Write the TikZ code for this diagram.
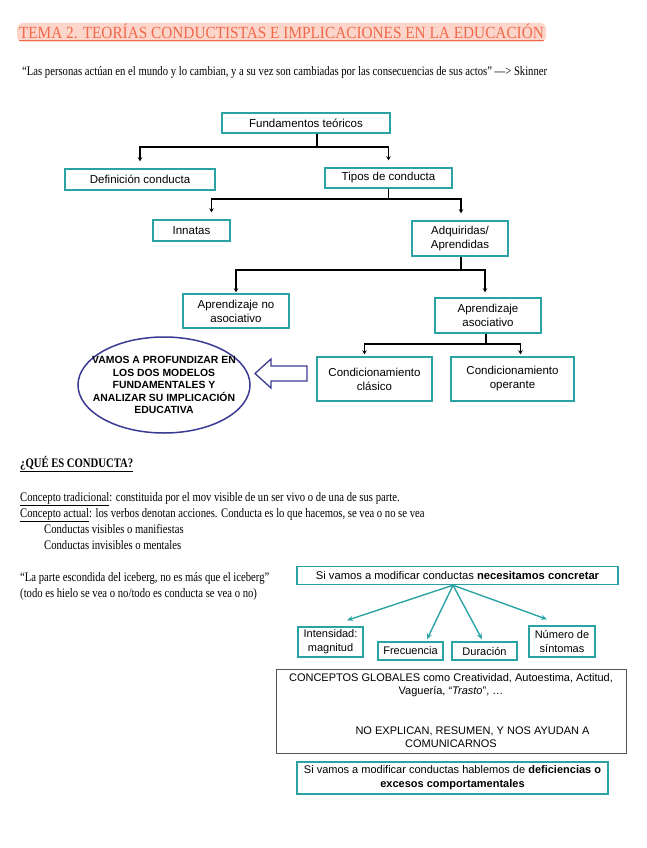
\documentclass[tikz,border=0pt]{standalone}
\usepackage{fontspec}
\setmainfont{Liberation Serif}
\newfontfamily\notefont[FakeStretch=0.82]{Liberation Serif}
\newfontfamily\headfont[FakeStretch=0.9]{Liberation Serif}
\newfontfamily\boxfont{Liberation Sans}
\usetikzlibrary{shapes.geometric,arrows.meta}

\definecolor{boxteal}{HTML}{2BA3A5}
\definecolor{titlered}{HTML}{F2684A}
\definecolor{titlepink}{HTML}{FCD6CB}
\definecolor{ovalblue}{HTML}{3B3A94}
\definecolor{framegray}{HTML}{555555}

\tikzset{
	tbox/.style={draw=boxteal, line width=1.4pt, align=center, inner sep=0pt,
		font=\boxfont\fontsize{11.5}{14}\selectfont},
	gbox/.style={draw=framegray, line width=0.9pt, align=center, inner sep=0pt,
		font=\boxfont\fontsize{11}{13}\selectfont},
	branch/.style={draw=black, line width=1.8pt, -{Stealth[length=4pt,width=4.5pt]}},
	fan/.style={draw=boxteal, line width=1.4pt, -{Stealth[length=6pt,width=5pt]}},
	note/.style={anchor=base west, inner sep=0pt, font=\notefont\fontsize{13}{15}\selectfont},
}

\begin{document}
\begin{tikzpicture}[x=1pt,y=-1pt]
	\useasboundingbox (0,0) rectangle (647,848);
	% cabecera
	\node [fill=titlepink, rounded corners=6pt, minimum width=529pt, minimum height=19pt, inner sep=0pt,
		text=titlered, font=\headfont\fontsize{17}{19}\selectfont] (head) at (281.5,32.5)
		{\underline{TEMA 2. TEORÍAS CONDUCTISTAS E IMPLICACIONES EN LA EDUCACIÓN}};
	\node [note] (cita) at (22,76) {“Las personas actúan en el mundo y lo cambian, y a su vez son cambiadas por las consecuencias de sus actos” —> Skinner};

	% esquema
	\node [tbox, minimum width=168pt, minimum height=20pt] (fund) at (306,123) {Fundamentos teóricos};
	\node [tbox, minimum width=150pt, minimum height=21pt] (defi) at (140,179.5) {Definición conducta};
	\node [tbox, minimum width=127pt, minimum height=20pt] (tipos) at (388.5,178) {Tipos de conducta};
	\node [tbox, minimum width=77pt, minimum height=21pt] (innatas) at (191.5,230.5) {Innatas};
	\node [tbox, minimum width=96pt, minimum height=35pt] (adqui) at (460,238.5) {Adquiridas/\\Aprendidas};
	\node [tbox, minimum width=106pt, minimum height=34pt] (noasoc) at (236,311) {Aprendizaje no\\asociativo};
	\node [tbox, minimum width=106pt, minimum height=35pt] (asoc) at (488,315.5) {Aprendizaje\\asociativo};
	\node [tbox, minimum width=115pt, minimum height=44pt] (clasico) at (374.5,379) {Condicionamiento\\clásico};
	\node [tbox, minimum width=123pt, minimum height=44pt] (operante) at (512.5,379) {Condicionamiento\\operante};
	\node [ellipse, draw=ovalblue, line width=1.5pt, minimum width=172pt, minimum height=96pt, inner sep=0pt] (plan) at (164,385) {};
	\node [align=center, inner sep=0pt, font=\boxfont\bfseries\fontsize{10.4}{12.5}\selectfont] (plantxt) at (plan.center)
		{VAMOS A PROFUNDIZAR EN\\LOS DOS MODELOS\\FUNDAMENTALES Y\\ANALIZAR SU IMPLICACIÓN\\EDUCATIVA};
	\draw [ovalblue, line width=1.3pt, line join=miter] (307,366) -- (271,366) -- (271,359) -- (255,373.5)
		-- (271,388) -- (271,381) -- (307,381) -- cycle;

	\draw [branch] ([xshift=11pt]fund.south) -- ++(0,13.5) -| ([yshift=7pt]defi.north);
	\draw [branch] ([xshift=11pt]fund.south) -- ++(0,13.5) -| ([yshift=7pt]tipos.north);
	\draw [branch] (tipos.south) -- ++(0,10) -| ([xshift=20pt,yshift=7pt]innatas.north);
	\draw [branch] (tipos.south) -- ++(0,10) -| ([xshift=1pt,yshift=7pt]adqui.north);
	\draw [branch] ([xshift=1pt]adqui.south) -- ++(0,13) -| ([yshift=1pt]noasoc.north);
	\draw [branch] ([xshift=1pt]adqui.south) -- ++(0,13) -| ([xshift=-3pt,yshift=5pt]asoc.north);
	\draw [branch] ([xshift=-2pt]asoc.south) -- ++(0,10) -| ([xshift=-10pt,yshift=2pt]clasico.north);
	\draw [branch] ([xshift=-2pt]asoc.south) -- ++(0,10) -| ([xshift=8pt,yshift=2pt]operante.north);

	% que es conducta
	\node [note, font=\notefont\bfseries\fontsize{13}{15}\selectfont] (pregunta) at (20,467) {\underline{¿QUÉ ES CONDUCTA?}};
	\node [note] (trad) at (20,501) {\underline{Concepto tradicional}: constituida por el mov visible de un ser vivo o de una de sus parte.};
	\node [note] (actual) at (20,517) {\underline{Concepto actual}: los verbos denotan acciones. Conducta es lo que hacemos, se vea o no se vea};
	\node [note] (visibles) at (44,533) {Conductas visibles o manifiestas};
	\node [note] (invisibles) at (44,549) {Conductas invisibles o mentales};
	\node [note] (iceberg) at (20,581) {“La parte escondida del iceberg, no es más que el iceberg”};
	\node [note] (hielo) at (20,597) {(todo es hielo se vea o no/todo es conducta se vea o no)};

	\node [tbox, font=\boxfont\fontsize{11.2}{13}\selectfont, minimum width=321pt, minimum height=18pt] (concretar) at (457.5,575.5)
		{Si vamos a modificar conductas \textbf{necesitamos concretar}};
	\node [tbox, font=\boxfont\fontsize{11}{14}\selectfont, minimum width=65pt, minimum height=30pt] (intens) at (330.5,642) {Intensidad:\\magnitud};
	\node [tbox, font=\boxfont\fontsize{11}{14}\selectfont, minimum width=65pt, minimum height=18pt] (frec) at (410.5,651) {Frecuencia};
	\node [tbox, font=\boxfont\fontsize{11}{14}\selectfont, minimum width=65pt, minimum height=18pt] (dura) at (484.5,651) {Duración};
	\node [tbox, font=\boxfont\fontsize{11}{14}\selectfont, minimum width=66pt, minimum height=31pt] (sintomas) at (562,641.5) {Número de\\síntomas};
	\draw [fan] ([xshift=-4.5pt]concretar.south) -- ([xshift=16.5pt,yshift=6pt]intens.north);
	\draw [fan] ([xshift=-4.5pt]concretar.south) -- ([xshift=16.5pt,yshift=2pt]frec.north);
	\draw [fan] ([xshift=-4.5pt]concretar.south) -- ([xshift=-2.5pt,yshift=2pt]dura.north);
	\draw [fan] ([xshift=-4.5pt]concretar.south) -- ([xshift=-15pt,yshift=6pt]sintomas.north);

	\node [gbox, minimum width=350pt, minimum height=84pt] (global) at (451,711)
		{CONCEPTOS GLOBALES como Creatividad, Autoestima, Actitud,\\Vaguería, “\textit{Trasto}”, \ldots\\[27pt]
		\hspace*{43pt}NO EXPLICAN, RESUMEN, Y NOS AYUDAN A\\COMUNICARNOS};
	\node [tbox, font=\boxfont\fontsize{11}{14}\selectfont, minimum width=311pt, minimum height=32pt] (deficit) at (452.5,778)
		{Si vamos a modificar conductas hablemos de \textbf{deficiencias o}\\\textbf{excesos comportamentales}};
\end{tikzpicture}
\end{document}
